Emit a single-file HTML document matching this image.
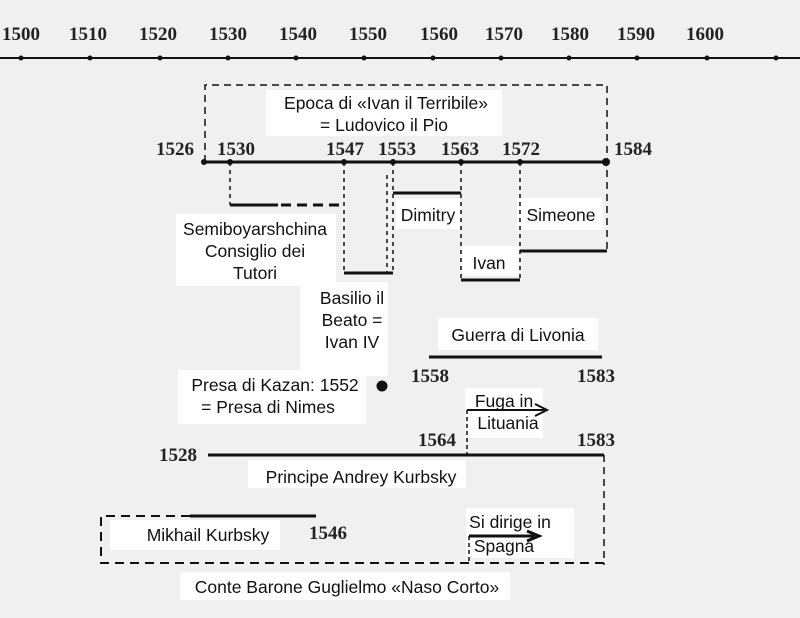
<!DOCTYPE html>
<html><head><meta charset="utf-8"><style>
html,body{margin:0;padding:0;background:#f0f0f0}
svg{display:block}
.s{font-family:"Liberation Serif",serif;font-size:19px;font-weight:bold;fill:#222}
.a{font-family:"Liberation Sans",sans-serif;font-size:17.5px;fill:#111}
</style></head><body>
<svg width="800" height="618" viewBox="0 0 800 618" xmlns="http://www.w3.org/2000/svg">
<rect width="800" height="618" fill="#f0f0f0"/>
<line x1="0" y1="58" x2="800" y2="58" stroke="#111" stroke-width="2"/>
<g fill="#111">
<circle cx="21" cy="58" r="2.5"/><circle cx="90" cy="58" r="2.5"/><circle cx="160" cy="58" r="2.5"/><circle cx="228" cy="58" r="2.5"/><circle cx="296" cy="58" r="2.5"/><circle cx="364" cy="58" r="2.5"/><circle cx="433" cy="58" r="2.5"/><circle cx="501" cy="58" r="2.5"/><circle cx="569" cy="58" r="2.5"/><circle cx="637" cy="58" r="2.5"/><circle cx="707" cy="58" r="2.5"/><circle cx="776" cy="58" r="2.5"/>
</g>
<g class="s" text-anchor="middle">
<text x="21" y="40">1500</text><text x="88" y="40">1510</text><text x="158" y="40">1520</text><text x="228" y="40">1530</text><text x="298" y="40">1540</text><text x="368" y="40">1550</text><text x="439" y="40">1560</text><text x="504" y="40">1570</text><text x="570" y="40">1580</text><text x="636" y="40">1590</text><text x="705" y="40">1600</text>
</g>
<g fill="#fff">
<rect x="266" y="90" width="236" height="46"/>
<rect x="176" y="214" width="160" height="72"/>
<rect x="396" y="199" width="64" height="30"/>
<rect x="517" y="198" width="86" height="32"/>
<rect x="462" y="246" width="56" height="30"/>
<rect x="300" y="282" width="88" height="94"/>
<rect x="438" y="318" width="160" height="32"/>
<rect x="178" y="370" width="188" height="54"/>
<rect x="465" y="388" width="78" height="50"/>
<rect x="248" y="460" width="218" height="28"/>
<rect x="110" y="520" width="170" height="30"/>
<rect x="466" y="508" width="108" height="50"/>
<rect x="180" y="572" width="330" height="28"/>
</g>
<g stroke="#111" stroke-width="1.5" fill="none" stroke-dasharray="7,5">
<path d="M205 162 V85 H607 V251"/>
<line x1="230" y1="162" x2="230" y2="205" stroke-dasharray="4,4"/>
<line x1="344" y1="162" x2="344" y2="273" stroke-dasharray="4,4"/>
<line x1="387" y1="175" x2="387" y2="273" stroke-dasharray="4,4"/>
<line x1="393" y1="162" x2="393" y2="273" stroke-dasharray="4,4"/>
<line x1="461" y1="162" x2="461" y2="280" stroke-dasharray="4,4"/>
<line x1="520" y1="162" x2="520" y2="280" stroke-dasharray="4,4"/>
<line x1="281" y1="205" x2="344" y2="205" stroke-width="3" stroke-dasharray="10,6"/>
<line x1="467" y1="410" x2="467" y2="455" stroke-dasharray="4,3"/>
<line x1="604" y1="455" x2="604" y2="565" stroke-dasharray="7,5"/>
<path d="M190 516 H101 V563 H604" stroke-width="2" stroke-dasharray="9,6"/>
<line x1="469" y1="536" x2="469" y2="563" stroke-dasharray="4,3"/>
</g>
<g stroke="#111" stroke-width="3" fill="none">
<line x1="204" y1="162" x2="606" y2="162"/>
<line x1="230" y1="205" x2="278" y2="205"/>
<line x1="344" y1="273" x2="393" y2="273"/>
<line x1="393" y1="193" x2="461" y2="193"/>
<line x1="461" y1="280" x2="520" y2="280"/>
<line x1="520" y1="251" x2="607" y2="251"/>
<line x1="429" y1="357" x2="602" y2="357"/>
<line x1="208" y1="455" x2="604" y2="455"/>
<line x1="190" y1="516" x2="316" y2="516"/>
<line x1="467" y1="410" x2="545" y2="410" stroke-width="2"/>
<line x1="469" y1="536" x2="535" y2="536"/>
</g>
<g stroke="#111" stroke-width="2" fill="none">
<path d="M535 404 L547 410 L535 416"/>
<path d="M527 531 L539 536 L527 541" stroke-width="3"/>
</g>
<g fill="#111">
<circle cx="204" cy="162" r="3"/><circle cx="230" cy="162" r="3"/><circle cx="344" cy="162" r="3"/><circle cx="393" cy="162" r="3"/><circle cx="461" cy="162" r="3"/><circle cx="520" cy="162" r="3"/><circle cx="606" cy="162" r="4"/>
<circle cx="382" cy="386" r="5.5"/>
</g>
<g class="s">
<text x="156" y="155">1526</text><text x="217" y="155">1530</text><text x="326" y="155">1547</text><text x="378" y="155">1553</text><text x="441" y="155">1563</text><text x="502" y="155">1572</text><text x="614" y="155">1584</text>
<text x="411" y="382">1558</text><text x="577" y="382">1583</text>
<text x="159" y="461">1528</text><text x="418" y="446">1564</text><text x="577" y="446">1583</text>
<text x="309" y="539">1546</text>
</g>
<g class="a" text-anchor="middle">
<text x="386" y="109">Epoca di «Ivan il Terribile»</text>
<text x="384" y="131">= Ludovico il Pio</text>
<text x="255" y="235">Semiboyarshchina</text>
<text x="255" y="257">Consiglio dei</text>
<text x="255" y="279">Tutori</text>
<text x="428" y="221">Dimitry</text>
<text x="561" y="221">Simeone</text>
<text x="489" y="269">Ivan</text>
<text x="352" y="304">Basilio il</text>
<text x="352" y="326">Beato =</text>
<text x="352" y="348">Ivan IV</text>
<text x="518" y="341">Guerra di Livonia</text>
<text x="275" y="391">Presa di Kazan: 1552</text>
<text x="268" y="413">= Presa di Nimes</text>
<text x="504" y="407">Fuga in</text>
<text x="508" y="429">Lituania</text>
<text x="510" y="528">Si dirige in</text>
<text x="504" y="552">Spagna</text>
<text x="361" y="483">Principe Andrey Kurbsky</text>
<text x="208" y="541">Mikhail Kurbsky</text>
<text x="347" y="593">Conte Barone Guglielmo «Naso Corto»</text>
</g>
</svg>
</body></html>
